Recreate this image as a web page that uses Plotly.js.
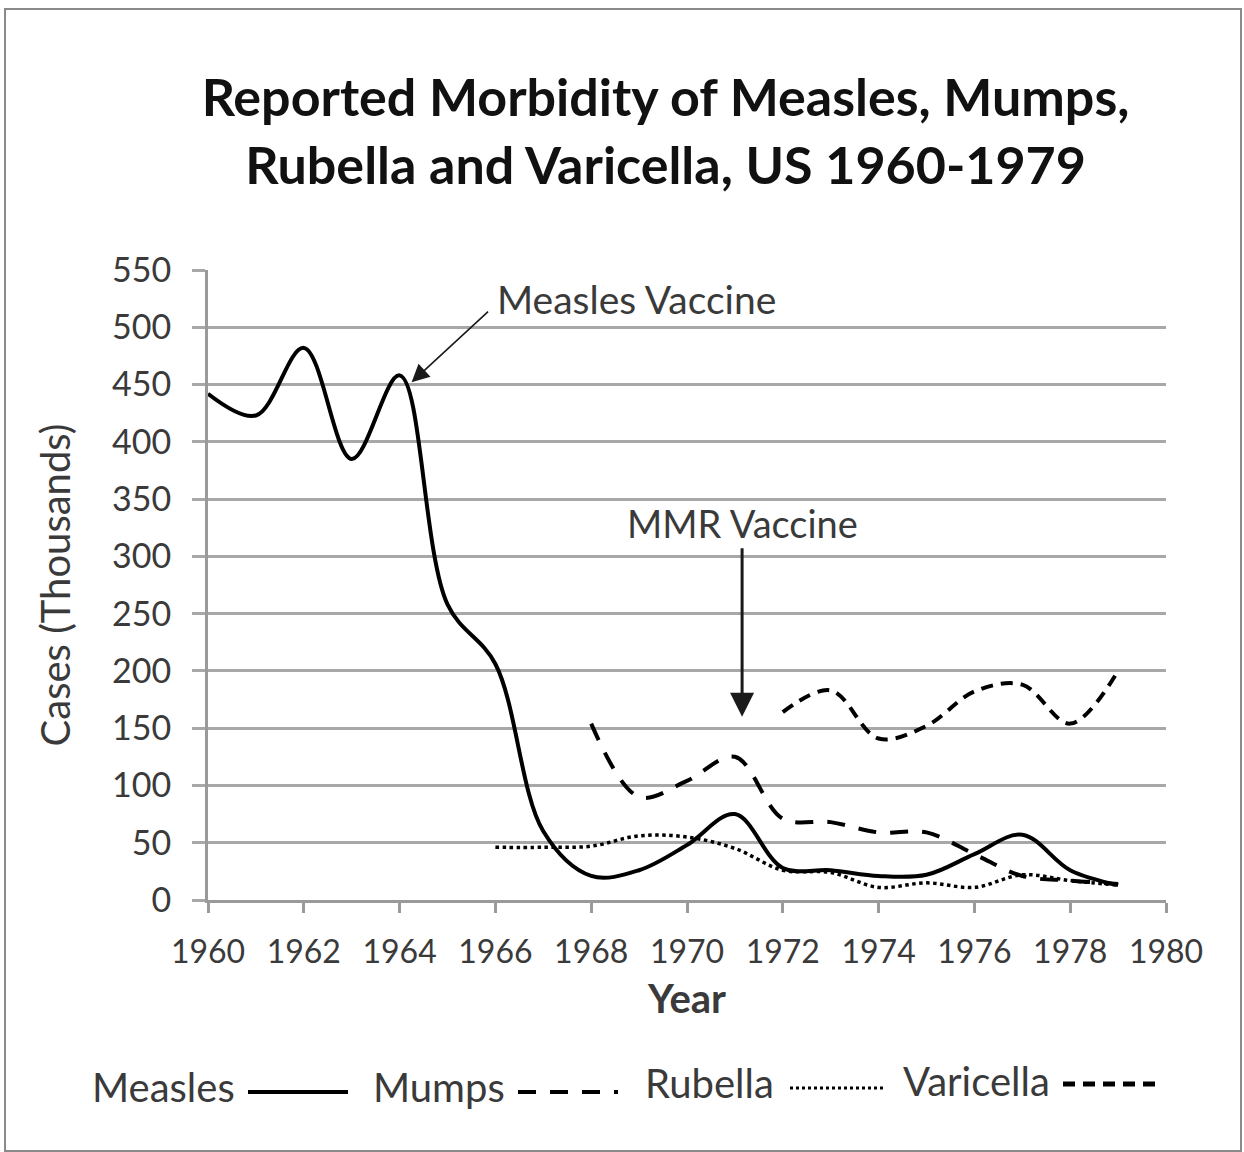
<!DOCTYPE html>
<html>
<head>
<meta charset="utf-8">
<script src="https://cdn.plot.ly/plotly-3.0.1.min.js"></script>
<style>
  html, body { margin: 0; padding: 0; background: #ffffff; }
  #frame { position: absolute; left: 4px; top: 8px; width: 1234px; height: 1140px; border: 2px solid #8a8a8a; pointer-events: none; z-index: 5; }
  #chart { position: absolute; left: 0; top: 0; width: 1244px; height: 1152px; }
</style>
</head>
<body>
<div id="chart"></div>
<div id="frame"></div>
<script>
// ---- Data (thousands of reported cases) ----
const measlesYears = [1960,1961,1962,1963,1964,1965,1966,1967,1968,1969,1970,1971,1972,1973,1974,1975,1976,1977,1978,1979];
const measlesCases = [442,423,482,385,458,258,206,60,21,26,48,75,28,26,21,22,40,57,26,13];

const mumpsYears = [1968,1969,1970,1971,1972,1973,1974,1975,1976,1977,1978,1979];
const mumpsCases = [154,90,104,125,71,68,59,59,40,21,17,14];

const rubellaYears = [1966,1967,1968,1969,1970,1971,1972,1973,1974,1975,1976,1977,1978,1979];
const rubellaCases = [46,46,47,56,55,45,26,24,11,15,11,22,17,13];

const varicellaYears = [1972,1973,1974,1975,1976,1977,1978,1979];
const varicellaCases = [164,183,141,152,182,188,154,200];

const xTickVals = [1960,1962,1964,1966,1968,1970,1972,1974,1976,1978,1980];
const yTickVals = [0,50,100,150,200,250,300,350,400,450,500,550];

const seriesNames = ['Measles','Mumps','Rubella','Varicella'];

const FONT = 'Lato, "Noto Sans", sans-serif';
const TXT = '#3a3a3a';

const base = { type: 'scatter', mode: 'lines', line: { shape: 'spline', smoothing: 1.0, color: '#000000', width: 4 }, showlegend: false, hoverinfo: 'x+y' };

const traces = [
  Object.assign({}, base, { name: seriesNames[0], x: measlesYears, y: measlesCases, line: Object.assign({}, base.line, { dash: 'solid' }) }),
  Object.assign({}, base, { name: seriesNames[1], x: mumpsYears, y: mumpsCases, line: Object.assign({}, base.line, { dash: '18px,14px' }) }),
  Object.assign({}, base, { name: seriesNames[2], x: rubellaYears, y: rubellaCases, line: Object.assign({}, base.line, { dash: 'dot', width: 3.5 }) }),
  Object.assign({}, base, { name: seriesNames[3], x: varicellaYears, y: varicellaCases, line: Object.assign({}, base.line, { dash: '12px,8px' }) })
];

// Legend drawn as "label + line sample" (label first, as in the original)
const L = 208, R = 1166, T = 270, B = 900;
const px = v => (v - L) / (R - L);
const py = v => (B - v) / (B - T);

const legendItems = [
  { text: seriesNames[0], tx: 90, ty: 1087, x0: 248, x1: 348, ly: 1092, dash: 'solid', w: 4 },
  { text: seriesNames[1], tx: 371, ty: 1087, x0: 518, x1: 618, ly: 1092, dash: '18px,14px', w: 4 },
  { text: seriesNames[2], tx: 643, ty: 1083, x0: 790, x1: 885, ly: 1088, dash: 'dot', w: 3 },
  { text: seriesNames[3], tx: 901, ty: 1081, x0: 1063, x1: 1163, ly: 1084, dash: '12px,8px', w: 5 }
];

const annotations = [];
const shapes = [];
legendItems.forEach(it => {
  annotations.push({ xref: 'paper', yref: 'paper', x: px(it.tx), y: py(it.ty), xanchor: 'left', yanchor: 'middle',
    text: it.text, showarrow: false, font: { family: FONT, size: 40, color: TXT } });
  shapes.push({ type: 'line', xref: 'paper', yref: 'paper', x0: px(it.x0), x1: px(it.x1), y0: py(it.ly), y1: py(it.ly),
    line: { color: '#000000', width: it.w, dash: it.dash } });
});

// Vaccine annotations
annotations.push({ xref: 'x', yref: 'y', x: 1968.95, y: 525, text: 'Measles Vaccine', showarrow: false,
  font: { family: FONT, size: 39, color: TXT }, xanchor: 'center', yanchor: 'middle' });
annotations.push({ xref: 'x', yref: 'y', x: 1964.25, y: 452, text: '', showarrow: true, ax: 78, ay: -72,
  arrowhead: 2, arrowsize: 2.2, arrowwidth: 1.6, arrowcolor: '#1a1a1a' });
annotations.push({ xref: 'x', yref: 'y', x: 1971.15, y: 329, text: 'MMR Vaccine', showarrow: false,
  font: { family: FONT, size: 38, color: TXT }, xanchor: 'center', yanchor: 'middle' });
annotations.push({ xref: 'x', yref: 'y', x: 1971.15, y: 160, text: '', showarrow: true, ax: 0, ay: -170,
  arrowhead: 2, arrowsize: 1.6, arrowwidth: 3, arrowcolor: '#1a1a1a' });

const layout = {
  width: 1244, height: 1152,
  paper_bgcolor: '#ffffff', plot_bgcolor: '#ffffff',
  margin: { l: L, r: 1244 - R, t: T, b: 1152 - B, pad: 0 },
  title: { text: '<b>Reported Morbidity of Measles, Mumps,<br>Rubella and Varicella, US 1960-1979</b>',
    font: { family: FONT, size: 52, color: '#111111' }, x: 0.535, xanchor: 'center', y: 1 - 116 / 1152, yanchor: 'middle', yref: 'container' },
  xaxis: {
    range: [1960, 1980], tickvals: xTickVals, ticktext: xTickVals.map(String),
    showgrid: false, zeroline: false, showline: true, linecolor: '#9a9a9a', linewidth: 3,
    ticks: 'outside', ticklen: 10, tickwidth: 3, tickcolor: '#9a9a9a', ticklabelstandoff: 12,
    tickfont: { family: FONT, size: 32, color: TXT },
    title: { text: '<b>Year</b>', font: { family: FONT, size: 40, color: TXT }, standoff: 16 }
  },
  yaxis: {
    range: [0, 550], tickvals: yTickVals, ticktext: yTickVals.map(String),
    showgrid: true, gridcolor: '#a8a8a8', gridwidth: 3, zeroline: false,
    showline: true, linecolor: '#9a9a9a', linewidth: 3,
    ticks: 'outside', ticklen: 13, tickwidth: 3, tickcolor: '#a8a8a8', ticklabelstandoff: 14,
    tickfont: { family: FONT, size: 34, color: TXT },
    title: { text: 'Cases (Thousands)', font: { family: FONT, size: 40, color: TXT }, standoff: 30 }
  },
  annotations: annotations,
  shapes: shapes
};

Plotly.newPlot('chart', traces, layout, { displayModeBar: false, staticPlot: true });
</script>
</body>
</html>
